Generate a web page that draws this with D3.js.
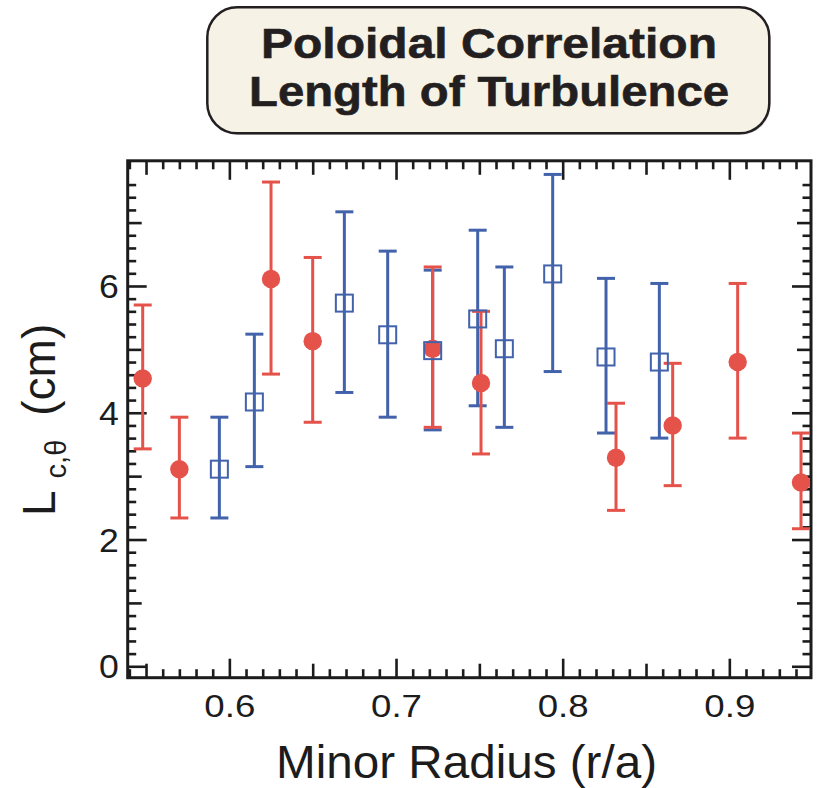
<!DOCTYPE html>
<html><head><meta charset="utf-8">
<script src="https://cdn.jsdelivr.net/npm/d3@7"></script>
<style>html,body{margin:0;padding:0;background:#fff;} svg{display:block;}</style>
</head><body>
<svg id="chart" width="821" height="788"></svg>
<script>
// ---------- data ----------
const titleLines = ["Poloidal Correlation", "Length of Turbulence"];
const xAxisTitle = "Minor Radius (r/a)";
const xTickLabels = [0.6, 0.7, 0.8, 0.9];
const yTickLabels = [0, 2, 4, 6];

// red filled circles
const redR   = [0.548, 0.570, 0.625, 0.650, 0.722, 0.751, 0.832, 0.866, 0.905, 0.943];
const redVal = [4.54, 3.11, 6.11, 5.13, 5.01, 4.47, 3.29, 3.80, 4.80, 2.90];
const redLo  = [3.43, 2.34, 4.61, 3.85, 3.77, 3.35, 2.46, 2.85, 3.60, 2.17];
const redHi  = [5.70, 3.93, 7.64, 6.45, 6.30, 5.60, 4.15, 4.78, 6.04, 3.68];

// blue open squares
const blueR   = [0.594, 0.615, 0.669, 0.695, 0.722, 0.749, 0.765, 0.794, 0.826, 0.858];
const blueVal = [3.11, 4.17, 5.73, 5.23, 4.98, 5.48, 5.01, 6.19, 4.88, 4.80];
const blueLo  = [2.34, 3.15, 4.32, 3.93, 3.73, 4.11, 3.77, 4.65, 3.68, 3.60];
const blueHi  = [3.93, 5.24, 7.17, 6.55, 6.25, 6.88, 6.30, 7.76, 6.12, 6.04];

// ---------- setup ----------
const FF = "'Liberation Sans', Arial, Helvetica, sans-serif";
const ink = "#1c1c1c";
const RED = "#e4524a", BLUE = "#4262ab";
const svg = d3.select("#chart");

const L = 127.7, R = 811, T = 160.8, B = 677.7;
const x = d3.scaleLinear().domain([0.539, 0.949]).range([L, R]);
const y = d3.scaleLinear().domain([-0.18, 7.975]).range([B, T]);

// ---------- title box ----------
svg.append("rect").attr("x", 208.5).attr("y", 8.8).attr("width", 562).attr("height", 126)
  .attr("rx", 30).attr("fill", "#8a8a8a").attr("opacity", 0.45);
svg.append("rect").attr("x", 207.3).attr("y", 7.3).attr("width", 562).attr("height", 126)
  .attr("rx", 30).attr("fill", "#f7f2e6").attr("stroke", "#231f20").attr("stroke-width", 2.5);
const tLens = [456, 480];
titleLines.forEach((t, i) => {
  svg.append("text").attr("x", 489).attr("y", 57.5 + i * 48)
    .attr("text-anchor", "middle").attr("font-family", FF).attr("font-weight", "bold")
    .attr("font-size", 43).attr("fill", "#231f20")
    .attr("stroke", "#231f20").attr("stroke-width", 0.6)
    .attr("textLength", tLens[i]).attr("lengthAdjust", "spacingAndGlyphs")
    .text(t);
});

// ---------- ticks ----------
const xMinor = d3.range(54, 95).map(d => d / 100).filter(v => v > 0.5395 && v < 0.949 && Math.round(v * 100) % 5 !== 0);
const xMed = [0.55, 0.65, 0.75, 0.85];
const yMinor = d3.range(0, 39).map(d => +(d * 0.2).toFixed(1)).filter(v => Math.abs(v - Math.round(v)) > 1e-6);
const yMed = [1, 3, 5, 7];

function tickGroup(axisFn, scale, vals, size, tx, ty, labels) {
  const a = axisFn(scale).tickValues(vals).tickSize(-size).tickFormat(labels ? d3.format(".1~f") : "");
  const g = svg.append("g").attr("transform", `translate(${tx},${ty})`).call(a);
  g.select(".domain").remove();
  g.selectAll(".tick line").attr("stroke", ink).attr("stroke-width", 2.6);
  return g;
}
// bottom
const gxb = tickGroup(d3.axisBottom, x, xTickLabels, 19, 0, B, true);
tickGroup(d3.axisBottom, x, xMed, 14, 0, B, false);
tickGroup(d3.axisBottom, x, xMinor, 8.5, 0, B, false);
// top
tickGroup(d3.axisTop, x, xTickLabels, 19, 0, T, false);
tickGroup(d3.axisTop, x, xMed, 14, 0, T, false);
tickGroup(d3.axisTop, x, xMinor, 8.5, 0, T, false);
// left
const gyl = tickGroup(d3.axisLeft, y, yTickLabels, 19, L, 0, true);
tickGroup(d3.axisLeft, y, yMed, 14, L, 0, false);
tickGroup(d3.axisLeft, y, yMinor, 8.5, L, 0, false);
// right
tickGroup(d3.axisRight, y, yTickLabels, 19, R, 0, false);
tickGroup(d3.axisRight, y, yMed, 14, R, 0, false);
tickGroup(d3.axisRight, y, yMinor, 8.5, R, 0, false);

gxb.selectAll(".tick text").attr("y", 717.2 - B).attr("dy", null)
  .attr("font-family", FF).attr("font-size", 31.5).attr("fill", ink)
  .attr("textLength", 51).attr("lengthAdjust", "spacingAndGlyphs");
gyl.selectAll(".tick text").attr("x", 118.8 - L).attr("dy", "0.355em")
  .attr("font-family", FF).attr("font-size", 32.5).attr("fill", ink)
  .attr("textLength", 19.8).attr("lengthAdjust", "spacingAndGlyphs");

// frame
svg.append("rect").attr("x", L).attr("y", T).attr("width", R - L).attr("height", B - T)
  .attr("fill", "none").attr("stroke", ink).attr("stroke-width", 3);

// ---------- axis titles ----------
svg.append("text").attr("x", 466.5).attr("y", 778.3).attr("text-anchor", "middle")
  .attr("font-family", FF).attr("font-size", 45.5).attr("fill", ink)
  .attr("textLength", 381).attr("lengthAdjust", "spacingAndGlyphs")
  .text(xAxisTitle);

const yl = svg.append("text").attr("transform", "translate(55,516) rotate(-90)")
  .attr("font-family", FF).attr("fill", ink);
yl.append("tspan").attr("font-size", 46).text("L");
yl.append("tspan").attr("font-size", 29).attr("dx", 12).attr("dy", 11).text("c,θ");
yl.append("tspan").attr("font-size", 46).attr("dx", 24).attr("dy", -11).text("(cm)");

// ---------- error bars & markers ----------
const cap = 9;
function errBars(rs, lo, hi, color) {
  const g = svg.append("g").attr("stroke", color).attr("stroke-width", 3).attr("fill", "none");
  rs.forEach((r, i) => {
    const cx = x(r);
    g.append("line").attr("x1", cx).attr("x2", cx).attr("y1", y(lo[i])).attr("y2", y(hi[i]));
    g.append("line").attr("x1", cx - cap).attr("x2", cx + cap).attr("y1", y(lo[i])).attr("y2", y(lo[i]));
    g.append("line").attr("x1", cx - cap).attr("x2", cx + cap).attr("y1", y(hi[i])).attr("y2", y(hi[i]));
  });
}
errBars(blueR, blueLo, blueHi, BLUE);
errBars(redR, redLo, redHi, RED);

svg.append("g").selectAll("circle").data(redR).join("circle")
  .attr("cx", d => x(d)).attr("cy", (d, i) => y(redVal[i])).attr("r", 9.2)
  .attr("fill", RED);

const s = 17;
svg.append("g").selectAll("rect").data(blueR).join("rect")
  .attr("x", d => x(d) - s / 2).attr("y", (d, i) => y(blueVal[i]) - s / 2)
  .attr("width", s).attr("height", s)
  .attr("fill", "none").attr("stroke", BLUE).attr("stroke-width", 2);
</script>
</body></html>
